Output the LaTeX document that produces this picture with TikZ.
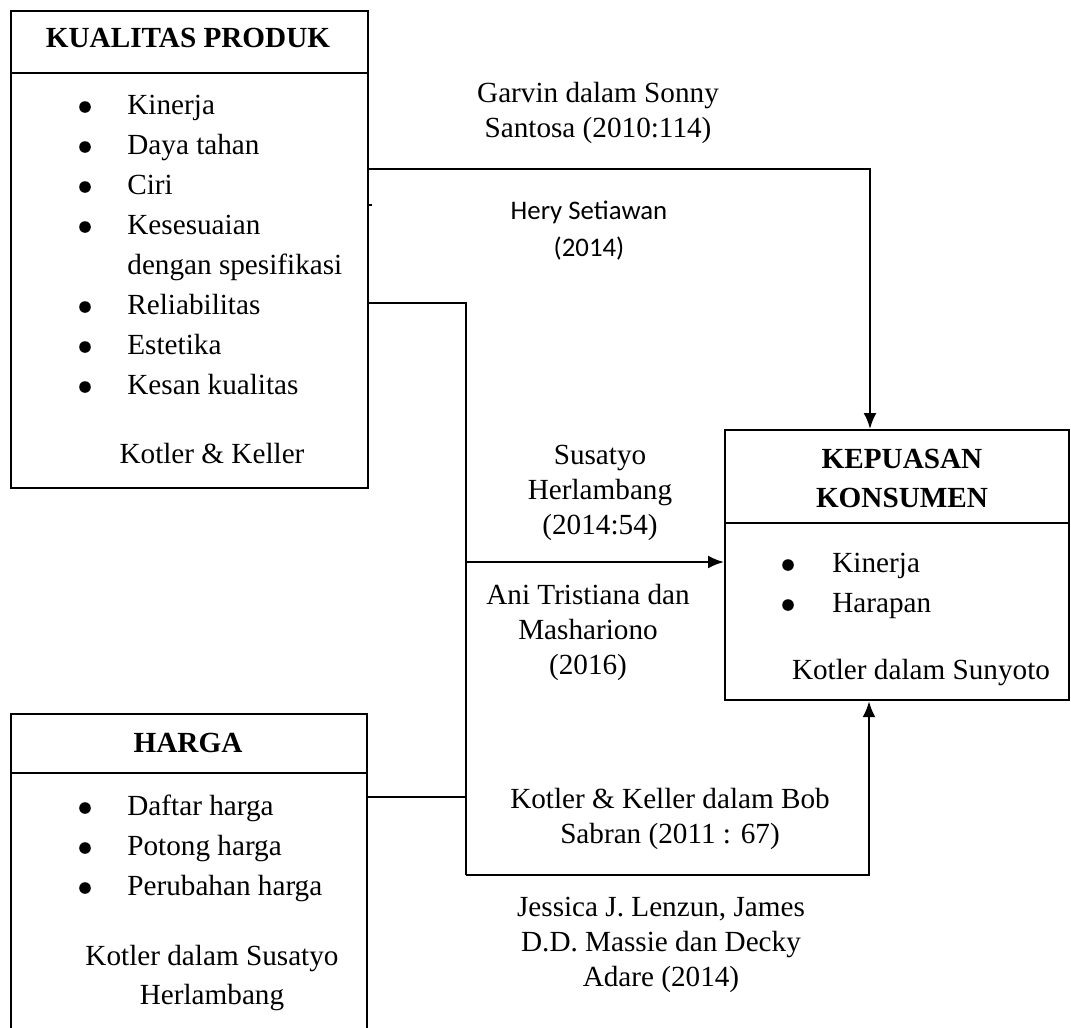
\documentclass[tikz,border=0pt]{standalone}
\usepackage{fontspec}
\setmainfont{Liberation Serif}
\newfontfamily\calibri{Carlito}
\usetikzlibrary{arrows.meta}

\begin{document}
\begin{tikzpicture}[x=0.5pt,y=-0.5pt,font=\fontsize{14.6}{17.5}\selectfont]
\tikzset{box/.style={draw,line width=1.1pt,inner sep=0pt,anchor=north west},
  boxtitle/.style={font=\fontsize{14.6}{19.5}\selectfont\bfseries,align=center,inner sep=0pt,anchor=north},
  listitem/.style={inner sep=0pt,anchor=base west},
  srcnote/.style={inner sep=0pt,align=center,anchor=north},
  conn/.style={line width=1.1pt},
  arr/.style={conn,-{Latex[length=8pt,width=6.5pt]}}}
\useasboundingbox (0,0) rectangle (1071,1028);
\clip (0,0) rectangle (1071,1028);

% kualitas produk
\node[box,minimum width=178.5pt,minimum height=238.5pt] (kualitas) at (10,10) {};
\draw[conn] (kualitas.west |- 0,73) -- (kualitas.east |- 0,73);
\node[boxtitle] (kualitas-title) at (188,28) {KUALITAS PRODUK};
\foreach \txt/\yy [count=\i] in {Kinerja/114, Daya tahan/154, Ciri/194, Kesesuaian/234,
    Reliabilitas/314, Estetika/354, Kesan kualitas/394} {
  \fill (85,\yy-7) circle[radius=2.9pt];
  \node[listitem] (kualitas-\i) at (127,\yy) {\txt};
}
\node[listitem] (kualitas-4b) at (127,274) {dengan spesifikasi};
\node[srcnote] (kualitas-src) at (212,443) {Kotler \& Keller};

% harga
\node[box,minimum width=178pt,minimum height=163.5pt] (harga) at (10,713) {};
\draw[conn] (harga.west |- 0,773) -- (harga.east |- 0,773);
\node[boxtitle] (harga-title) at (188,733) {HARGA};
\foreach \txt/\yy [count=\i] in {Daftar harga/815, Potong harga/855, Perubahan harga/895} {
  \fill (85,\yy-7) circle[radius=2.9pt];
  \node[listitem] (harga-\i) at (127,\yy) {\txt};
}
\node[srcnote,font=\fontsize{14.6}{19.5}\selectfont] (harga-src) at (212,945) {Kotler dalam Susatyo\\Herlambang};

% kepuasan konsumen
\node[box,minimum width=172pt,minimum height=135pt] (kepuasan) at (724,429) {};
\draw[conn] (kepuasan.west |- 0,523) -- (kepuasan.east |- 0,523);
\node[boxtitle] (kepuasan-title) at (902,449) {KEPUASAN\\KONSUMEN};
\foreach \txt/\yy [count=\i] in {Kinerja/572, Harapan/612} {
  \fill (788,\yy-7) circle[radius=2.9pt];
  \node[listitem] (kepuasan-\i) at (832,\yy) {\txt};
}
\node[srcnote] (kepuasan-src) at (921,659) {Kotler dalam Sunyoto};

% sumber
\node[srcnote] (garvin) at (598,82) {Garvin dalam Sonny\\Santosa (2010:114)};
\node[srcnote,font=\calibri\fontsize{13.4}{18.5}\selectfont] (hery) at (589,201) {Hery Setiawan\\(2014)};
\node[srcnote] (susatyo) at (600,445) {Susatyo\\Herlambang\\(2014:54)};
\node[srcnote] (ani) at (588,584) {Ani Tristiana dan\\Mashariono\\(2016)};
\node[srcnote] (bob) at (670,788) {Kotler \& Keller dalam Bob\\Sabran (2011 : 67)};
\node[srcnote] (jessica) at (661,897) {Jessica J. Lenzun, James\\D.D. Massie dan Decky\\Adare (2014)};

\coordinate (jtop) at (466,303);
\coordinate (jbot) at (466,875);
\draw[arr] (kualitas.east |- 0,169) -| (kepuasan.north -| 870,0);
\draw[conn] (kualitas.east |- 0,205) -- ++(3,0);
\draw[conn] (kualitas.east |- jtop) -- (jtop) -- (jbot);
\draw[conn] (harga.east |- 0,797) -- (jtop |- 0,797);
\draw[arr] (jtop |- 0,562) -- (kepuasan.west |- 0,562);
\draw[arr] (jbot) -| (kepuasan.south -| 869,0);
\end{tikzpicture}
\end{document}
